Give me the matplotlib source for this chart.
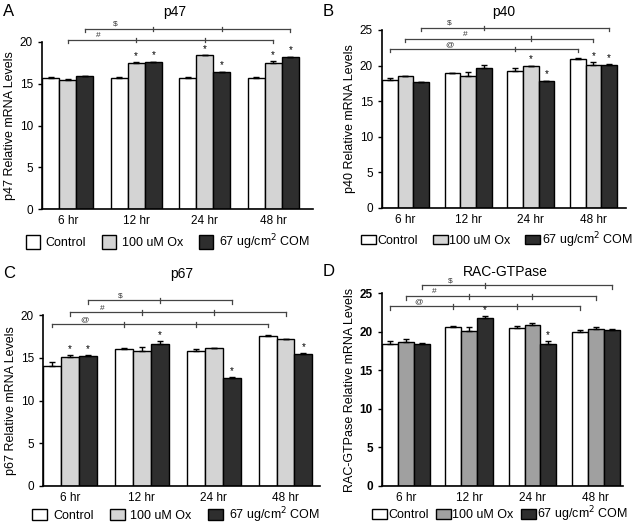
import numpy as np
import matplotlib.pyplot as plt
from matplotlib.patches import Patch

plt.rcParams['font.family'] = ['Liberation Sans', 'DejaVu Sans']

groups = ['6 hr', '12 hr', '24 hr', '48 hr']
series = ['Control', '100 uM Ox', '67 ug/cm$^2$ COM']

# panel A - p47
p47_ctrl = [15.7, 15.7, 15.7, 15.7]
p47_ox = [15.5, 17.5, 18.4, 17.5]
p47_com = [15.9, 17.6, 16.4, 18.2]
p47_ctrl_err = [0.15, 0.15, 0.15, 0.15]
p47_ox_err = [0.05, 0.12, 0.05, 0.2]
p47_com_err = [0.05, 0.05, 0.05, 0.05]
p47_stars = [(1, 1), (1, 2), (2, 1), (2, 2), (3, 1), (3, 2)]
# brackets: (label, series index, group indices, height)
p47_brackets = [('#', 1, [0, 1, 2, 3], 20.2), ('$', 2, [0, 1, 2, 3], 21.6)]

# panel B - p40
p40_ctrl = [18.0, 18.9, 19.2, 20.9]
p40_ox = [18.5, 18.5, 19.9, 20.1]
p40_com = [17.7, 19.6, 17.8, 20.1]
p40_ctrl_err = [0.3, 0.08, 0.45, 0.15]
p40_ox_err = [0.1, 0.55, 0.1, 0.45]
p40_com_err = [0.05, 0.5, 0.1, 0.1]
p40_stars = [(2, 1), (2, 2), (3, 1), (3, 2)]
p40_brackets = [('@', 0, [0, 2, 3], 22.3), ('#', 1, [0, 2, 3], 23.8),
                ('$', 2, [0, 1, 3], 25.3)]

# panel C - p67
p67_ctrl = [14.0, 16.0, 15.8, 17.6]
p67_ox = [15.1, 15.8, 16.1, 17.2]
p67_com = [15.2, 16.6, 12.6, 15.4]
p67_ctrl_err = [0.45, 0.15, 0.25, 0.08]
p67_ox_err = [0.2, 0.4, 0.03, 0.03]
p67_com_err = [0.1, 0.35, 0.1, 0.1]
p67_stars = [(0, 1), (0, 2), (1, 2), (2, 2), (3, 2)]
p67_brackets = [('@', 0, [0, 1, 2, 3], 18.9), ('#', 1, [0, 1, 2, 3], 20.3),
                ('$', 2, [0, 1, 2], 21.7)]

# panel D - RAC-GTPase
rac_ctrl = [18.4, 20.65, 20.45, 20.0]
rac_ox = [18.7, 20.1, 20.8, 20.4]
rac_com = [18.4, 21.7, 18.4, 20.25]
rac_ctrl_err = [0.35, 0.05, 0.25, 0.15]
rac_ox_err = [0.3, 0.5, 0.35, 0.2]
rac_com_err = [0.1, 0.3, 0.35, 0.05]
rac_stars = [(1, 2), (2, 2)]
rac_brackets = [('@', 0, [0, 1, 2, 3], 23.3), ('#', 1, [0, 1, 2, 3], 24.6),
                ('$', 2, [0, 1, 3], 26.0)]

W, H = 640, 526
fig = plt.figure(figsize=(6.4, 5.26), dpi=100)


def make_axes(l, r, b, t):
    return fig.add_axes([l / W, 1 - b / H, (r - l) / W, (b - t) / H])


def panel(ax, vals, errs, stars, brackets, ylim, yticks, xright,
          ylabel, ox_color, bold=False):
    w = 0.25
    x = np.arange(len(groups))
    colors = ['white', ox_color, '#2e2e2e']
    for i in range(3):
        ax.bar(x + (i - 1) * w, vals[i], w, color=colors[i], edgecolor='black',
               linewidth=1.0, zorder=2)
        ax.errorbar(x + (i - 1) * w, vals[i], yerr=[np.zeros(4), errs[i]],
                    fmt='none', ecolor='black', elinewidth=1.0, capsize=2.5,
                    capthick=1.0, zorder=3)
    for g, s in stars:
        ax.text(x[g] + (s - 1) * w, vals[s][g] + errs[s][g] + 0.15, '*',
                ha='center', va='bottom', fontsize=7)
    tick = (ylim[1] - ylim[0]) * 0.018
    for lab, s, gs, h in brackets:
        xs = [x[g] + (s - 1) * w for g in gs]
        ax.plot([xs[0], xs[-1]], [h, h], color='#444444', lw=0.9,
                clip_on=False)
        for k, xx in enumerate(xs):
            if k in (0, len(xs) - 1):
                ax.plot([xx, xx], [h, h - tick], color='#444444', lw=0.9,
                        clip_on=False)
            else:
                ax.plot([xx, xx], [h - tick * 0.7, h + tick * 0.7],
                        color='#444444', lw=0.9, clip_on=False)
        ax.text((xs[0] + xs[1]) / 2 - 0.05, h + tick * 0.3, lab, ha='center',
                va='bottom', fontsize=6, color='#333333')
    ax.set_xlim(-0.375, xright)
    ax.set_ylim(*ylim)
    ax.set_yticks(yticks)
    ax.set_xticks(x)
    ax.set_xticklabels(groups, fontsize=8.5)
    ax.tick_params(axis='y', labelsize=8.5, length=3, width=1)
    ax.tick_params(axis='x', length=0, pad=4)
    if bold:
        for lbl in ax.get_yticklabels():
            lbl.set_fontweight('bold')
    ax.spines['top'].set_visible(False)
    ax.spines['right'].set_visible(False)
    ax.spines['left'].set_linewidth(1.2)
    ax.spines['bottom'].set_linewidth(1.2)
    ax.set_ylabel(ylabel, fontsize=9, labelpad=3)


axA = make_axes(42, 313, 209, 42)
panel(axA, [p47_ctrl, p47_ox, p47_com], [p47_ctrl_err, p47_ox_err, p47_com_err],
      p47_stars, p47_brackets, (0, 20), [0, 5, 10, 15, 20], 3.58,
      'p47 Relative mRNA Levels', '#d4d4d4')

axB = make_axes(382, 626, 208, 30)
panel(axB, [p40_ctrl, p40_ox, p40_com], [p40_ctrl_err, p40_ox_err, p40_com_err],
      p40_stars, p40_brackets, (0, 25), [0, 5, 10, 15, 20, 25], 3.52,
      'p40 Relative mRNA Levels', '#d4d4d4')

axC = make_axes(43, 320, 486, 315)
panel(axC, [p67_ctrl, p67_ox, p67_com], [p67_ctrl_err, p67_ox_err, p67_com_err],
      p67_stars, p67_brackets, (0, 20), [0, 5, 10, 15, 20], 3.48,
      'p67 Relative mRNA Levels', '#d4d4d4')

axD = make_axes(382, 623, 486, 293)
panel(axD, [rac_ctrl, rac_ox, rac_com], [rac_ctrl_err, rac_ox_err, rac_com_err],
      rac_stars, rac_brackets, (0, 25), [0, 5, 10, 15, 20, 25], 3.43,
      'RAC-GTPase Relative mRNA Levels', '#a0a0a0', bold=True)

# titles and panel letters, placed in figure pixels
title_txt = ['p47', 'p40', 'p67', 'RAC-GTPase']
for (tx, ty), t in zip([(175, 12), (504, 12), (182, 274), (505, 272)], title_txt):
    fig.text(tx / W, 1 - ty / H, t, ha='center', va='center', fontsize=10)
for (lx, ly), t in zip([(3, 12), (323, 12), (3, 274), (323, 272)], 'ABCD'):
    fig.text(lx / W, 1 - ly / H, t, ha='left', va='center', fontsize=12)


def legend(cx, cy, ox_color, hl, hh, cs, ht):
    handles = [Patch(facecolor=c, edgecolor='black', linewidth=1.0)
               for c in ['white', ox_color, '#2e2e2e']]
    fig.legend(handles, series, loc='center', ncol=3,
               bbox_to_anchor=(cx / W, 1 - cy / H), frameon=False,
               fontsize=9, handlelength=hl, handleheight=hh,
               columnspacing=cs, handletextpad=ht, borderpad=0)


legend(168, 242, '#d4d4d4', 1.1, 1.3, 1.3, 0.45)
legend(497, 240, '#d4d4d4', 1.2, 0.7, 1.2, 0.1)
legend(176, 515, '#d4d4d4', 1.2, 1.0, 1.3, 0.45)
legend(500, 514, '#a0a0a0', 1.2, 0.9, 0.6, 0.1)

fig.savefig('out.png', dpi=100)
